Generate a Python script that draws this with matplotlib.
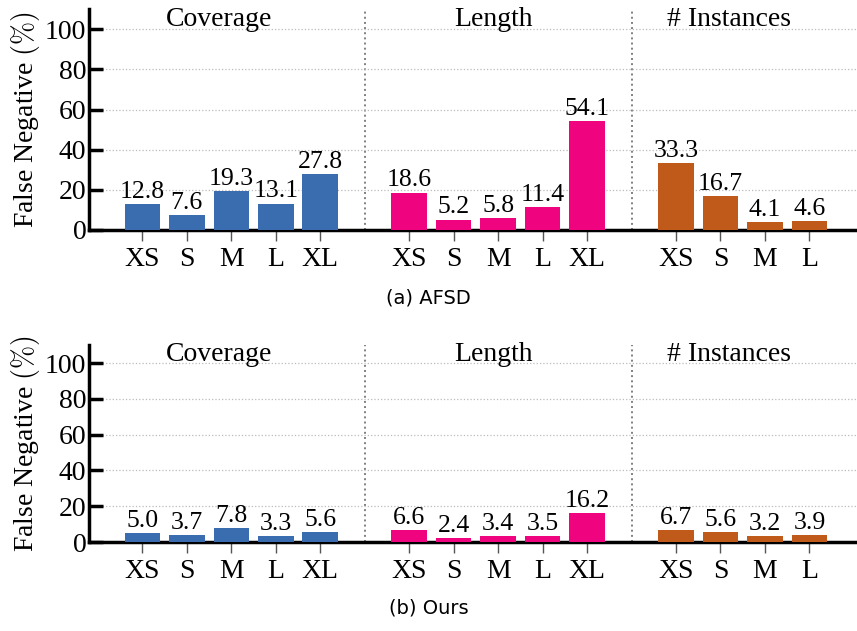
import numpy as np
import matplotlib
matplotlib.use("Agg")
from matplotlib import pyplot as plt

# group names and per-group bin labels
groups = ["Coverage", "Length", "# Instances"]
bins_coverage = ["XS", "S", "M", "L", "XL"]
bins_length = ["XS", "S", "M", "L", "XL"]
bins_instances = ["XS", "S", "M", "L"]

# false negative rates (%) for each method
afsd_coverage = [12.8, 7.6, 19.3, 13.1, 27.8]
afsd_length = [18.6, 5.2, 5.8, 11.4, 54.1]
afsd_instances = [33.3, 16.7, 4.1, 4.6]

ours_coverage = [5.0, 3.7, 7.8, 3.3, 5.6]
ours_length = [6.6, 2.4, 3.4, 3.5, 16.2]
ours_instances = [6.7, 5.6, 3.2, 3.9]

captions = ["(a) AFSD", "(b) Ours"]
colors = ["#3a6cb0", "#f0037f", "#bf5a1a"]
title_shift = [-0.27, -0.11, -0.3]

plt.rcParams["font.family"] = ["Liberation Serif", "DejaVu Serif"]
plt.rcParams["mathtext.fontset"] = "cm"


def draw_panel(ax, series, caption_y, caption):
    bins = [bins_coverage, bins_length, bins_instances]
    xs_all, labels_all = [], []
    start = 0
    for gi, (vals, names) in enumerate(zip(series, bins)):
        xs = np.arange(len(vals)) + start
        ax.bar(xs, vals, width=0.8, color=colors[gi], zorder=3)
        for x, v in zip(xs, vals):
            ax.text(x, v + 0.6, "%.1f" % v, ha="center", va="bottom",
                    fontsize=18.5, zorder=4)
        ax.text(xs.mean() + title_shift[gi], 105, groups[gi],
                ha="center", va="center", fontsize=20)
        xs_all.extend(xs)
        labels_all.extend(names)
        if gi < 2:
            ax.axvline(start + len(vals), color="gray", linestyle=":",
                       linewidth=1.4, zorder=1)
        start += len(vals) + 1

    ax.set_xticks(xs_all)
    ax.set_xticklabels(labels_all, fontsize=20)
    ax.set_xlim(-1.2, 16.07)
    ax.set_ylim(0, 110)
    ax.set_yticks([0, 20, 40, 60, 80, 100])
    ax.tick_params(axis="y", direction="in", length=10, width=2.5,
                   labelsize=20, pad=2)
    ax.tick_params(axis="x", direction="out", length=8, width=1,
                   color="#555555", labelsize=20, pad=4)
    ax.yaxis.grid(True, linestyle=":", color="#bbbbbb", linewidth=0.9,
                  zorder=0)
    ax.spines["top"].set_visible(False)
    ax.spines["right"].set_visible(False)
    ax.spines["left"].set_linewidth(2.5)
    ax.spines["bottom"].set_linewidth(2.5)
    ax.set_ylabel(r"False Negative $(\%)$", fontsize=20, labelpad=2)
    fig.text(0.5, caption_y, caption, ha="center", va="center",
             fontsize=14, family="DejaVu Sans")


fig = plt.figure(figsize=(8.57, 6.31), dpi=100)
ax_top = fig.add_axes([0.1039, 0.6355, 0.8961, 0.350])
ax_bot = fig.add_axes([0.1039, 0.141, 0.8961, 0.312])

draw_panel(ax_top, [afsd_coverage, afsd_length, afsd_instances],
           1 - 298 / 631, captions[0])
draw_panel(ax_bot, [ours_coverage, ours_length, ours_instances],
           1 - 608 / 631, captions[1])

plt.savefig("out.png", dpi=100)
plt.close()
